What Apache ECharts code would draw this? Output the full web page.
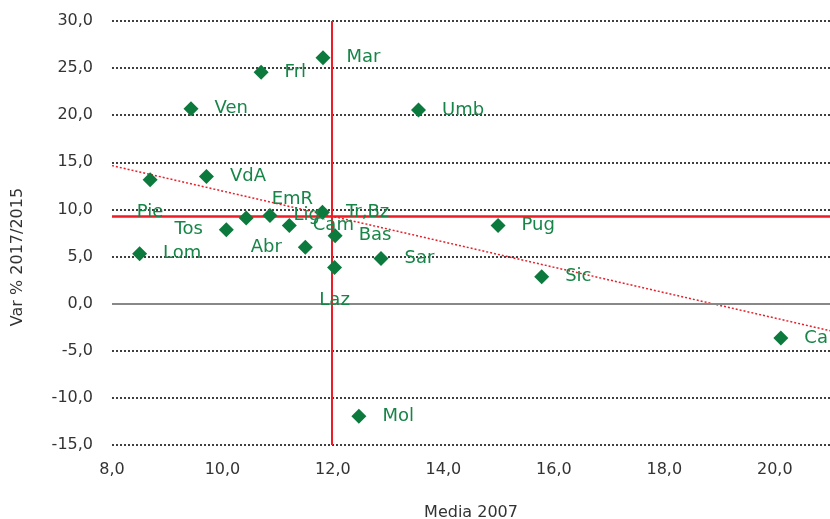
<!DOCTYPE html>
<html>
<head>
<meta charset="utf-8">
<script src="https://cdn.jsdelivr.net/npm/echarts@6/dist/echarts.min.js"></script>
<style>
  html, body { margin: 0; padding: 0; background: #fff; }
  #chart { width: 830px; height: 519px; }
</style>
</head>
<body>
<div id="chart"></div>
<script>
// regions: media 2007 (x) vs var % 2017/2015 (y)
const regions = ['Mar', 'Frl', 'Ven', 'Umb', 'Pie', 'VdA', 'EmR', 'Lig', 'Cam', 'Tr,Bz',
  'Bas', 'Tos', 'Lom', 'Abr', 'Laz', 'Sar', 'Pug', 'Sic', 'Ca', 'Mol']
const media2007 = [11.82, 10.70, 9.43, 13.55, 8.69, 9.71, 10.43, 10.86, 11.21, 11.81,
  12.04, 10.07, 8.50, 11.50, 12.03, 12.87, 14.99, 15.78, 20.11, 12.47]
const var1715 = [26.1, 24.55, 20.7, 20.55, 13.15, 13.5, 9.1, 9.35, 8.3, 9.7,
  7.2, 7.85, 5.3, 6.0, 3.85, 4.8, 8.3, 2.85, -3.65, -11.95]
const labelSide = ['right', 'right', 'right', 'right', 'bottom', 'right', 'right', 'right', 'right', 'right',
  'right', 'left', 'right', 'left', 'bottom', 'right', 'right', 'right', 'right', 'right']

// trend line ends and reference lines
const trendX = [8, 21]
const trendY = [14.65, -2.87]
const meanX = 11.97
const meanY = 9.3

const xTicks = { min: 8, max: 21, step: 2 }
const yTicks = { min: -15, max: 30, step: 5 }

const fmt = (v) => v.toFixed(1).replace('.', ',')

const points = regions.map((name, i) => {
  const item = { name, value: [media2007[i], var1715[i]], label: { position: labelSide[i] } }
  if (name === 'EmR') item.label.offset = [2, -19]
  return item
})

const chart = echarts.init(document.getElementById('chart'), null, { renderer: 'canvas' })

chart.setOption({
  animation: false,
  backgroundColor: '#fff',
  textStyle: { fontFamily: 'DejaVu Sans' },
  grid: { left: 112, right: 0, top: 21, bottom: 74, outerBoundsMode: 'none' },
  xAxis: {
    type: 'value',
    min: xTicks.min,
    max: xTicks.max,
    interval: xTicks.step,
    name: 'Media 2007',
    nameLocation: 'middle',
    nameGap: 60,
    nameTextStyle: { color: '#333', fontSize: 16 },
    axisLine: { show: false },
    axisTick: { show: false },
    splitLine: { show: false },
    axisLabel: {
      color: '#333',
      fontSize: 16,
      margin: 17,
      formatter: (v) => (v > 20.5 ? '' : fmt(v)),
    },
  },
  yAxis: {
    type: 'value',
    min: yTicks.min,
    max: yTicks.max,
    interval: yTicks.step,
    name: 'Var % 2017/2015',
    nameLocation: 'middle',
    nameGap: 86,
    nameTextStyle: { color: '#333', fontSize: 16, padding: [0, 48, 0, 0] },
    axisLine: { show: false },
    axisTick: { show: false },
    axisLabel: { color: '#333', fontSize: 16, margin: 19, formatter: fmt },
    splitLine: { lineStyle: { color: '#000', width: 1.5, type: [2, 2] } },
  },
  series: [
    {
      type: 'line',
      data: [[trendX[0], trendY[0]], [trendX[1], trendY[1]]],
      symbol: 'none',
      silent: true,
      z: 2,
      lineStyle: { color: '#e8202a', width: 1.5, type: [2, 2] },
      markLine: {
        silent: true,
        symbol: ['none', 'none'],
        label: { show: false },
        data: [
          { yAxis: 0, lineStyle: { color: '#888', width: 2, type: 'solid' } },
          { xAxis: meanX, lineStyle: { color: '#ee1c25', width: 2, type: 'solid' } },
          { yAxis: meanY, lineStyle: { color: '#ee1c25', width: 2.5, type: 'solid' } },
        ],
      },
    },
    {
      type: 'scatter',
      data: points,
      symbol: 'diamond',
      symbolSize: 15,
      z: 5,
      itemStyle: { color: '#0b7a3c', opacity: 1 },
      label: {
        show: true,
        formatter: '{b}',
        color: '#178548',
        fontSize: 18,
        distance: 16,
      },
      emphasis: { disabled: true },
    },
  ],
})
</script>
</body>
</html>
